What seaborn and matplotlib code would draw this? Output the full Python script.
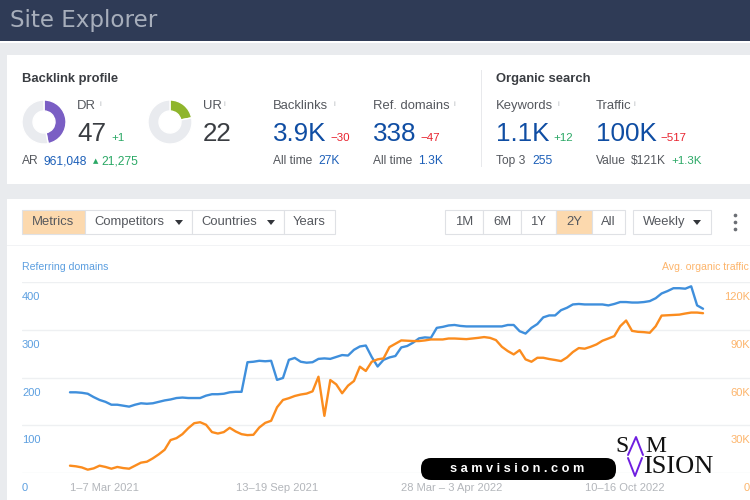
import matplotlib
matplotlib.use("Agg")
import matplotlib.pyplot as plt
import matplotlib.transforms as mtrans
from matplotlib.patches import Rectangle, FancyBboxPatch
import numpy as np
import pandas as pd
import seaborn as sns

ref_domains = [
    169, 169, 168, 166, 159, 153, 149, 143, 143, 141, 139, 143, 146, 145, 146, 149, 152, 154,
    157, 158, 157, 157, 157, 162, 165, 165, 166, 169, 170, 170, 232, 233, 235, 234, 235, 195,
    199, 237, 241, 233, 231, 232, 239, 240, 239, 243, 247, 246, 258, 265, 267, 243, 223, 237,
    242, 245, 263, 266, 273, 282, 284, 283, 304, 306, 309, 310, 308, 307, 307, 307, 307, 307,
    307, 307, 310, 310, 297, 292, 304, 312, 326, 330, 330, 341, 346, 353, 354, 353, 353, 353,
    353, 351, 354, 358, 358, 357, 357, 358, 360, 366, 376, 381, 387, 387, 386, 391, 351, 344,
]
organic_traffic = [
    4.6, 4.2, 3.5, 2.1, 2.9, 4.6, 3.8, 2.7, 3.8, 3.1, 2.7, 4.6, 6.5, 7.1, 9.2, 11.7, 14.6, 20.7,
    21.9, 24.4, 28.2, 31.3, 31.9, 30.3, 25.7, 24.8, 25.7, 28.4, 26.1, 24.4, 23.8, 24.0, 28.6, 31.5,
    32.8, 41.3, 45.9, 47.0, 48.4, 49.3, 49.9, 51.3, 60.5, 35.9, 58.4, 55.7, 50.1, 54.9, 57.8, 66.8,
    64.1, 69.9, 71.4, 72.0, 79.1, 81.2, 83.3, 83.1, 82.9, 82.9, 83.3, 83.9, 83.9, 83.9, 84.5, 84.5,
    84.3, 84.1, 84.5, 84.9, 85.4, 84.9, 83.5, 79.3, 76.6, 74.5, 77.2, 71.4, 69.9, 72.4, 72.4, 71.6,
    71.0, 70.3, 72.6, 76.0, 78.5, 78.1, 79.3, 80.8, 83.1, 84.5, 86.0, 92.2, 95.8, 89.3, 88.7, 88.5,
    88.1, 92.2, 98.9, 99.1, 99.3, 99.5, 100.2, 100.8, 100.8, 100.4,
]
week_ticks = [0, 28, 56, 87]
week_labels = ["1–7 Mar 2021", "13–19 Sep 2021", "28 Mar – 3 Apr 2022", "10–16 Oct 2022"]
left_ticks = [0, 100, 200, 300, 400]
left_labels = ["0", "100", "200", "300", "400"]
right_ticks = [0, 30, 60, 90, 120]
right_labels = ["0", "30K", "60K", "90K", "120K"]
dr_score = 47
ur_score = 22

BLUE = "#3f8fdc"
ORANGE = "#fb8c1e"
LINK = "#1c5fb8"
BIG = "#0f4da3"
GREEN = "#2aa865"
RED = "#e8232f"
DARK = "#3a3d42"
GREY = "#55585e"

sns.set_theme(style="white")
plt.rcParams["font.family"] = ["Liberation Sans", "DejaVu Sans"]

fig = plt.figure(figsize=(7.5, 5), dpi=100, facecolor="#e9ebee")

# page furniture, drawn in pixel coordinates
bg = fig.add_axes([0, 0, 1, 1])
bg.set_xlim(0, 750)
bg.set_ylim(500, 0)
bg.axis("off")


def box(x0, y0, x1, y1, color, edge="none", **kw):
    bg.add_patch(Rectangle((x0, y0), x1 - x0, y1 - y0, facecolor=color, edgecolor=edge, lw=0.8, **kw))


def label(x, y, s, px=13, color=GREY, **kw):
    kw.setdefault("va", "center")
    bg.text(x, y, s, fontsize=px * 0.72, color=color, **kw)


box(0, 0, 750, 41, "#2f3b56")
box(0, 41, 750, 43, "#ffffff")
box(7, 55, 750, 184, "#ffffff")
box(7, 199, 750, 500, "#ffffff")
box(481, 70, 481.7, 167, "#e8e9ec")
box(7, 245, 750, 246, "#f2f3f5")

label(10, 20, "Site Explorer", px=23, color="#a7aebb", family="DejaVu Sans")

label(22, 79, "Backlink profile", px=13, color=DARK, fontweight="bold")
label(496, 79, "Organic search", px=13, color=DARK, fontweight="bold")

label(77, 106, "DR", px=13)
label(77, 134, "47", px=26, color=DARK)
label(111, 138, "+1", px=11.5, color=GREEN)
label(22, 161, "AR", px=12)
label(43, 161, "961,048", px=12, color=LINK)
label(93, 161, "▲", px=7, color=GREEN, family="DejaVu Sans")
label(101, 161, "21,275", px=12, color=GREEN)

label(203, 106, "UR", px=13)
label(203, 134, "22", px=26, color=DARK)

label(273, 106, "Backlinks", px=13)
label(273, 134, "3.9K", px=26, color=BIG)
label(330, 138, "−30", px=11.5, color=RED)
label(273, 161, "All time", px=12)
label(318, 161, "27K", px=12, color=LINK)

label(373, 106, "Ref. domains", px=13)
label(373, 134, "338", px=26, color=BIG)
label(420, 138, "−47", px=11.5, color=RED)
label(373, 161, "All time", px=12)
label(418, 161, "1.3K", px=12, color=LINK)

label(496, 106, "Keywords", px=13)
label(496, 134, "1.1K", px=26, color=BIG)
label(553, 138, "+12", px=11.5, color=GREEN)
label(496, 161, "Top 3", px=12)
label(532, 161, "255", px=12, color=LINK)

label(596, 106, "Traffic", px=13)
label(596, 134, "100K", px=26, color=BIG)
label(660, 138, "−517", px=11.5, color=RED)
label(596, 161, "Value", px=12)
label(631, 161, "$121K", px=12, color=GREY)
label(671, 161, "+1.3K", px=11.5, color=GREEN)

for x in [99, 224, 333, 453, 557, 634]:
    label(x, 104, "i", px=8, color="#b5b8bd")

# toolbar buttons
bars_left = [(22, 85, "Metrics", "#fcd9ae"), (85, 192, "Competitors", "#ffffff"),
             (192, 284, "Countries", "#ffffff"), (284, 335, "Years", "#ffffff")]
for x0, x1, s, c in bars_left:
    box(x0, 210, x1, 234, c, edge="#dfe1e5")
    label(x0 + 10 if s == "Metrics" else x0 + 9, 222, s, px=13, color=GREY)
bars_right = [(445, 483, "1M", "#ffffff"), (483, 521, "6M", "#ffffff"), (521, 556, "1Y", "#ffffff"),
              (556, 592, "2Y", "#fcd9ae"), (592, 625, "All", "#ffffff")]
for x0, x1, s, c in bars_right:
    box(x0, 210, x1, 234, c, edge="#dfe1e5")
    label((x0 + x1) / 2, 222, s, px=13, color=GREY, ha="center")
box(633, 210, 711, 234, "#ffffff", edge="#dfe1e5")
label(643, 222, "Weekly", px=13, color=GREY)
for x in [179, 271, 697]:
    bg.fill([x - 4, x + 4, x], [220, 220, 225], color="#33363b", lw=0)
bg.scatter([735, 735, 735], [215, 222, 229], s=7, color="#6b6e74", linewidths=0)


def donut(cx, score, color):
    ax = fig.add_axes([(cx - 23) / 750, 1 - 145 / 500, 46 / 750, 46 / 500])
    ax.pie([score, 100 - score], colors=[color, "#e9ebef"], startangle=90, counterclock=False,
           radius=1.0, wedgeprops={"width": 0.5})
    ax.set_xlim(-1.045, 1.045)
    ax.set_ylim(-1.045, 1.045)


donut(44, dr_score, "#7a5ec4")
donut(170, ur_score, "#8fb52c")

# main chart
weeks = np.arange(len(ref_domains))
df = pd.DataFrame({"week": weeks, "domains": ref_domains, "traffic": np.array(organic_traffic)})

# one week is 5.916 px; week 0 sits at x=70 and the axes run from x=22 to x=750
ax = fig.add_axes([22 / 750, 1 - 473 / 500, 728 / 750, 191 / 500])
ax.patch.set_alpha(0)
sns.lineplot(data=df, x="week", y="domains", color=BLUE, linewidth=1.7, ax=ax)
ax.set_xlim(-8.11, 114.94)
ax.set_ylim(0, 400)
ax.set_xlabel("")
ax.set_ylabel("")
ax.set_yticks(left_ticks)
ax.set_yticklabels(left_labels)
ax.set_xticks(week_ticks)
ax.set_xticklabels(week_labels)
ax.grid(axis="y", color="#eef0f2", linewidth=1)
ax.grid(axis="x", visible=False)
ax.tick_params(axis="x", length=0, pad=7, labelsize=8, labelcolor="#b3b6bb")
ax.tick_params(axis="y", length=0, pad=0, labelsize=8, labelcolor="#5c9fe0")
for t in ax.get_xticklabels():
    t.set_ha("left")
down = mtrans.ScaledTranslation(0, -14 / 100, fig.dpi_scale_trans)
for t in ax.get_yticklabels():
    t.set_ha("left")
    t.set_transform(t.get_transform() + down)
sns.despine(ax=ax, left=True, bottom=True, right=True, top=True)

ax2 = ax.twinx()
sns.lineplot(data=df, x="week", y="traffic", color=ORANGE, linewidth=1.7, ax=ax2)
ax2.set_ylim(0, 120)
ax2.set_ylabel("")
ax2.set_yticks(right_ticks)
ax2.set_yticklabels(right_labels)
ax2.tick_params(axis="y", length=0, pad=0, labelsize=8, labelcolor="#fdb56c")
for t in ax2.get_yticklabels():
    t.set_ha("right")
    t.set_transform(t.get_transform() + down)
ax2.grid(False)
sns.despine(ax=ax2, left=True, bottom=True, right=True, top=True)

# overlay for axis titles and watermark
top = fig.add_axes([0, 0, 1, 1])
top.set_xlim(0, 750)
top.set_ylim(500, 0)
top.axis("off")
top.text(22, 266.5, "Referring domains", fontsize=7.6, color="#5c9fe0", va="center")
top.text(749, 266.5, "Avg. organic traffic", fontsize=7.6, color="#fdb56c", va="center", ha="right")

top.add_patch(FancyBboxPatch((421, 458), 195, 22, boxstyle="round,pad=0,rounding_size=10",
                             facecolor="#000000", edgecolor="none", lw=0))
top.text(517, 469, "s a m v i s i o n . c o m", fontsize=9.2, color="#ffffff", fontweight="bold",
         ha="center", va="center")
top.text(615, 446, "S", fontsize=17, family="Liberation Serif", color="#111111", va="center")
top.text(645, 446, "M", fontsize=17, family="Liberation Serif", color="#111111", va="center")
top.plot([628, 636, 643], [455, 437, 455], color="#6f1fe0", lw=1.4)
top.plot([628, 635, 642], [458, 476, 458], color="#6f1fe0", lw=1.4)
top.text(643, 467, "ISION", fontsize=19, family="Liberation Serif", color="#111111", va="center")

fig.savefig("out.png", dpi=100, facecolor=fig.get_facecolor())
